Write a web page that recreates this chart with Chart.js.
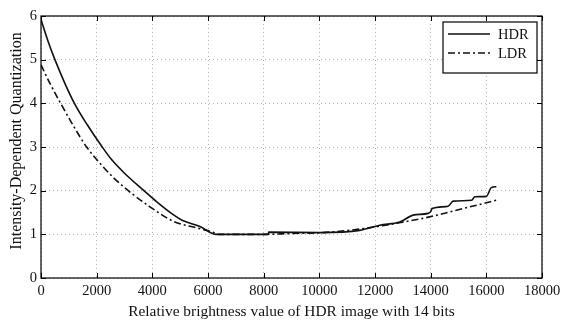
<!DOCTYPE html>
<html>
<head>
<meta charset="utf-8">
<script src="https://cdn.jsdelivr.net/npm/chart.js@4"></script>
<style>
html,body{margin:0;padding:0;background:#fff;}
#wrap{width:565px;height:321px;position:relative;}
</style>
</head>
<body>
<div id="wrap"><canvas id="c" width="565" height="321"></canvas></div>
<script>
const seriesNames = ["HDR", "LDR"];
const hdrX = [0, 250, 500, 850, 1200, 1650, 2200, 2550, 3000, 3700, 4150, 4750, 5050, 5710, 6280, 8160, 8180, 10000, 11450, 12170, 12890, 13370, 13910, 14000, 14050, 14630, 14810, 15470, 15590, 16000, 16180, 16360];
const hdrY = [5.92, 5.43, 5.0, 4.47, 4.0, 3.52, 3.0, 2.70, 2.40, 2.0, 1.75, 1.45, 1.33, 1.18, 1.0, 1.0, 1.05, 1.04, 1.09, 1.21, 1.28, 1.44, 1.48, 1.52, 1.59, 1.645, 1.76, 1.78, 1.86, 1.87, 2.07, 2.09];
const ldrX = [0, 350, 706, 1150, 1640, 2226, 2600, 3135, 3913, 4750, 5710, 6175, 6400, 8000, 9000, 10000, 11570, 13000, 13960, 15160, 16360];
const ldrY = [4.88, 4.42, 4.0, 3.5, 3.0, 2.55, 2.3, 2.0, 1.63, 1.30, 1.13, 1.05, 1.0, 1.0, 1.02, 1.035, 1.13, 1.28, 1.40, 1.59, 1.78];
const xTicks = [0, 2000, 4000, 6000, 8000, 10000, 12000, 14000, 16000, 18000];
const yTicks = [0, 1, 2, 3, 4, 5, 6];
const xTitle = "Relative brightness value of HDR image with 14 bits";
const yTitle = "Intensity-Dependent Quantization";

const FONT = "'Liberation Serif','Times New Roman',serif";
const toPts = (xs, ys) => xs.map((x, i) => ({x: x, y: ys[i]}));

const frameAndLegend = {
  id: 'frameAndLegend',
  afterDraw(chart) {
    const ctx = chart.ctx, a = chart.chartArea;
    const xs = chart.scales.x, ys = chart.scales.y;
    ctx.save();
    ctx.strokeStyle = '#000';
    ctx.lineWidth = 1;
    ctx.setLineDash([]);
    // inward ticks on all four sides
    ctx.beginPath();
    xs.ticks.forEach(t => {
      const px = Math.round(xs.getPixelForValue(t.value)) + 0.5;
      ctx.moveTo(px, a.bottom); ctx.lineTo(px, a.bottom - 5);
      ctx.moveTo(px, a.top); ctx.lineTo(px, a.top + 5);
    });
    ys.ticks.forEach(t => {
      const py = Math.round(ys.getPixelForValue(t.value)) + 0.5;
      ctx.moveTo(a.left, py); ctx.lineTo(a.left + 5, py);
      ctx.moveTo(a.right, py); ctx.lineTo(a.right - 5, py);
    });
    ctx.stroke();
    // frame
    ctx.lineWidth = 1.2;
    ctx.strokeRect(a.left, a.top, a.right - a.left, a.bottom - a.top);
    // y axis title
    ctx.save();
    ctx.translate(17, 141);
    ctx.rotate(-Math.PI / 2);
    ctx.fillStyle = '#111';
    ctx.font = "16px " + FONT;
    ctx.textAlign = 'center';
    ctx.textBaseline = 'middle';
    ctx.fillText(yTitle, 0, 0);
    ctx.restore();
    // legend
    const bx = a.right - 99, by = a.top + 6, bw = 94, bh = 51;
    ctx.fillStyle = '#fff';
    ctx.fillRect(bx, by, bw, bh);
    ctx.lineWidth = 1.2;
    ctx.strokeRect(bx, by, bw, bh);
    chart.data.datasets.forEach((ds, i) => {
      const ly = by + 12 + i * 19;
      ctx.beginPath();
      ctx.setLineDash(ds.borderDash || []);
      ctx.lineWidth = ds.borderWidth;
      ctx.strokeStyle = ds.borderColor;
      ctx.moveTo(bx + 5, ly); ctx.lineTo(bx + 47, ly);
      ctx.stroke();
      ctx.setLineDash([]);
      ctx.fillStyle = '#111';
      ctx.font = "14.5px " + FONT;
      ctx.textBaseline = 'middle';
      ctx.textAlign = 'left';
      ctx.fillText(ds.label, bx + 55, ly + 1);
    });
    ctx.restore();
  }
};

new Chart(document.getElementById('c'), {
  type: 'line',
  data: {
    datasets: [
      {label: seriesNames[0], data: toPts(hdrX, hdrY), borderColor: '#111', borderWidth: 1.6, pointRadius: 0, cubicInterpolationMode: 'monotone', fill: false},
      {label: seriesNames[1], data: toPts(ldrX, ldrY), borderColor: '#111', borderWidth: 1.6, borderDash: [7, 3, 2, 3], pointRadius: 0, cubicInterpolationMode: 'monotone', fill: false}
    ]
  },
  options: {
    responsive: false,
    animation: false,
    devicePixelRatio: 1,
    layout: {padding: {top: 16, right: 23, left: 0, bottom: 0}},
    plugins: {legend: {display: false}, tooltip: {enabled: false}},
    scales: {
      x: {
        type: 'linear', min: 0, max: 18000,
        afterBuildTicks(s) { s.ticks = xTicks.map(v => ({value: v})); },
        afterFit(s) { s.height = 43; },
        grid: {color: '#b4b4b4', lineWidth: 1, drawTicks: false},
        border: {display: false, dash: [1, 3]},
        ticks: {color: '#111', font: {family: FONT, size: 14.5}, padding: 4, maxRotation: 0, autoSkip: false, callback: v => String(v)},
        title: {display: true, text: xTitle, color: '#111', font: {family: FONT, size: 15.4}, padding: {top: 5, bottom: 0}}
      },
      y: {
        type: 'linear', min: 0, max: 6,
        afterBuildTicks(s) { s.ticks = yTicks.map(v => ({value: v})); },
        afterFit(s) { s.width = 41; },
        grid: {color: '#b4b4b4', lineWidth: 1, drawTicks: false},
        border: {display: false, dash: [1, 3]},
        ticks: {color: '#111', font: {family: FONT, size: 14.5}, padding: 4, callback: v => String(v)},
        title: {display: false}
      }
    }
  },
  plugins: [frameAndLegend]
});
</script>
</body>
</html>
